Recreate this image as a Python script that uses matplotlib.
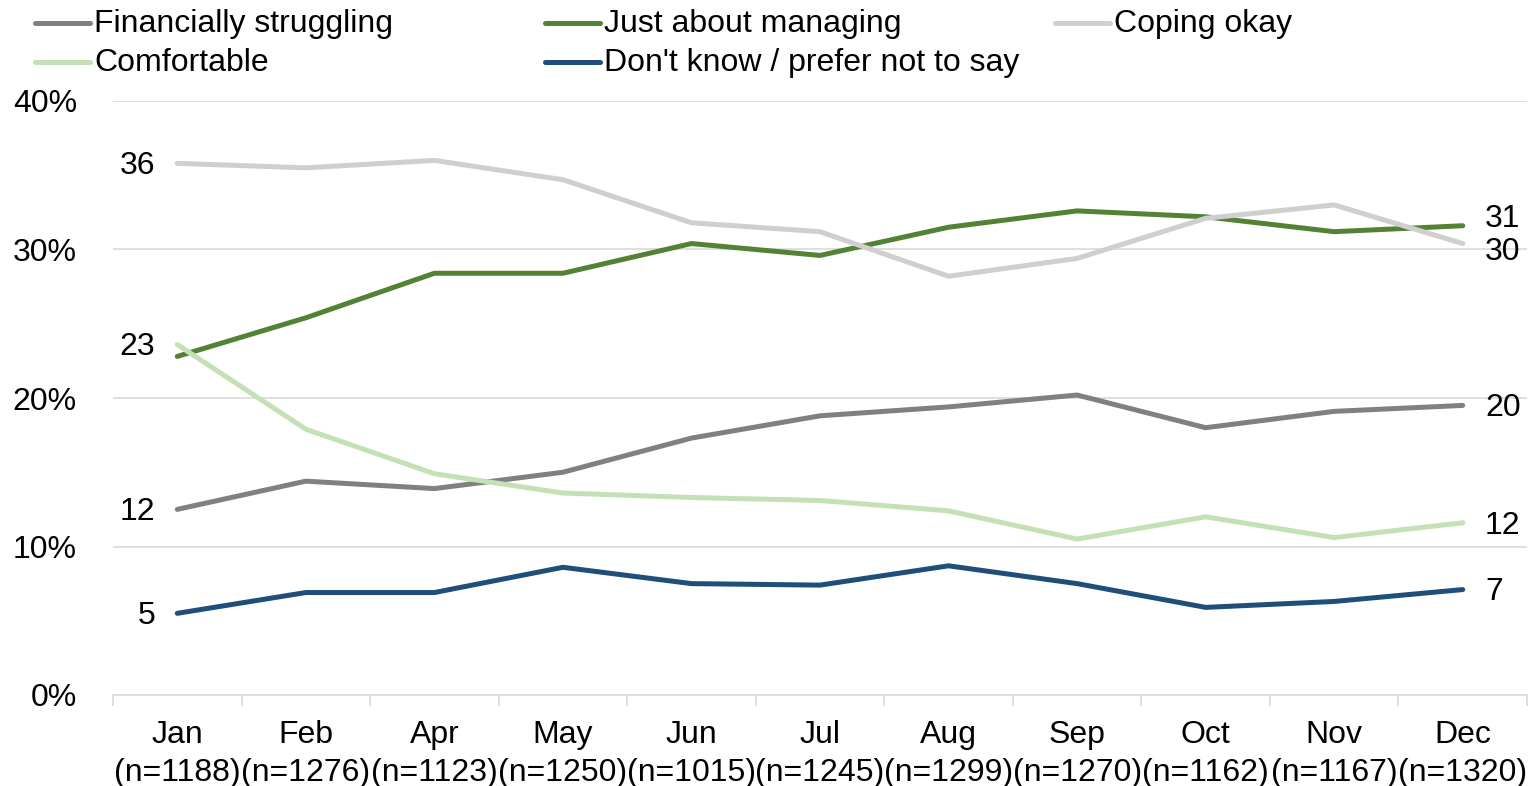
import matplotlib.pyplot as plt
from matplotlib.lines import Line2D

plt.rcParams['font.family'] = ['Liberation Sans', 'DejaVu Sans']

months = ['Jan', 'Feb', 'Apr', 'May', 'Jun', 'Jul', 'Aug', 'Sep', 'Oct', 'Nov', 'Dec']
sizes = [1188, 1276, 1123, 1250, 1015, 1245, 1299, 1270, 1162, 1167, 1320]

struggling = [12.5, 14.4, 13.9, 15.0, 17.3, 18.8, 19.4, 20.2, 18.0, 19.1, 19.5]
managing = [22.8, 25.4, 28.4, 28.4, 30.4, 29.6, 31.5, 32.6, 32.2, 31.2, 31.6]
coping = [35.8, 35.5, 36.0, 34.7, 31.8, 31.2, 28.2, 29.4, 32.1, 33.0, 30.4]
comfortable = [23.6, 17.9, 14.9, 13.6, 13.3, 13.1, 12.4, 10.5, 12.0, 10.6, 11.6]
dont_know = [5.5, 6.9, 6.9, 8.6, 7.5, 7.4, 8.7, 7.5, 5.9, 6.3, 7.1]

series = [
    ('Financially struggling', struggling, '#808080'),
    ('Just about managing', managing, '#548235'),
    ('Coping okay', coping, '#d0cece'),
    ('Comfortable', comfortable, '#c5e0b4'),
    ("Don't know / prefer not to say", dont_know, '#1f4e79'),
]

# end labels: (series index, text, y offset in points)
left_labels = [(2, '36', -2), (3, '23', -2), (0, '12', -2), (4, '5', -2)]
right_labels = [(1, '31', 5), (2, '30', -6), (0, '20', -2), (3, '12', -2), (4, '7', -2)]

FS = 23
LW = 3.6

fig = plt.figure(figsize=(15.29, 7.86), dpi=100, facecolor='white')
ax = fig.add_axes([113 / 1529, (786 - 695) / 786, (1527 - 113) / 1529, (695 - 101) / 786])

x = list(range(len(months)))
for name, vals, col in series:
    ax.plot(x, vals, color=col, lw=LW, solid_capstyle='round', zorder=3)

for i, txt, dy in left_labels:
    ax.annotate(txt, (0, series[i][1][0]), xytext=(-16, dy), textcoords='offset points',
                ha='right', va='center', fontsize=FS)
for i, txt, dy in right_labels:
    ax.annotate(txt, (10, series[i][1][-1]), xytext=(16, dy), textcoords='offset points',
                ha='left', va='center', fontsize=FS)

ax.set_xlim(-0.5, 10.5)
ax.set_ylim(0, 40)
ax.set_yticks([0, 10, 20, 30, 40])
ax.set_yticklabels(['0%', '10%', '20%', '30%', '40%'])
ax.yaxis.grid(True, color='#d9d9d9', lw=1.2)
ax.set_axisbelow(True)
ax.set_xticks(x)
ax.set_xticklabels([f'{m}\n(n={n})' for m, n in zip(months, sizes)], linespacing=1.35)
ax.set_xticks([v - 0.5 for v in range(len(months) + 1)], minor=True)
ax.tick_params(axis='x', which='major', length=0, labelsize=FS, pad=18)
ax.tick_params(axis='x', which='minor', length=8, color='#d9d9d9', width=1.2)
ax.tick_params(axis='y', length=0, labelsize=FS, pad=26)
for s in ['top', 'right', 'left']:
    ax.spines[s].set_visible(False)
ax.spines['bottom'].set_color('#d9d9d9')
ax.spines['bottom'].set_linewidth(1.2)

# legend, laid out in two rows like the original
W, H = 1529, 786
slots = [(35, 23), (545, 23), (1055, 23), (35, 62), (545, 62)]
for (name, vals, col), (px, py) in zip(series, slots):
    fig.add_artist(Line2D([px / W, (px + 55) / W], [1 - py / H, 1 - py / H],
                          color=col, lw=LW, solid_capstyle='round'))
    fig.text((px + 59) / W, 1 - (py + 1) / H, name, fontsize=FS, ha='left', va='center')

plt.savefig('out.png', dpi=100, facecolor='white')
plt.close()
